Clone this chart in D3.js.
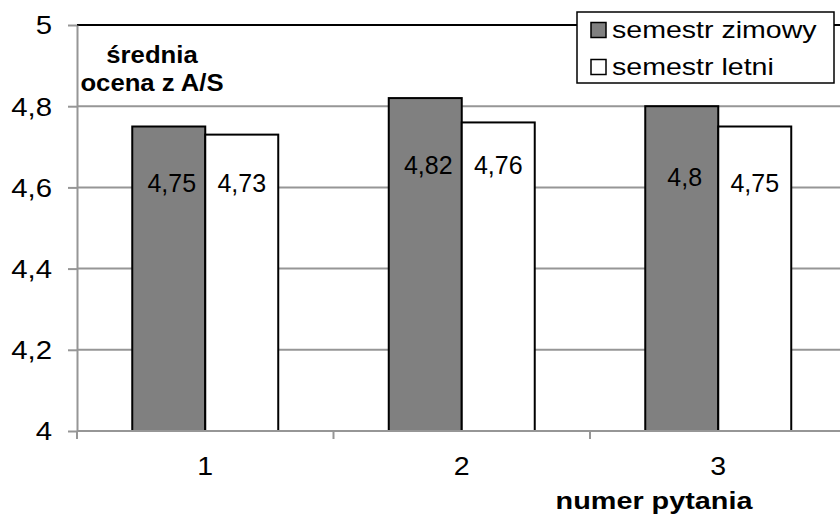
<!DOCTYPE html>
<html><head><meta charset="utf-8">
<script src="https://cdn.jsdelivr.net/npm/d3@7"></script>
<style>
body{margin:0;background:#fff;}
svg{display:block;font-family:"Liberation Sans",Arial,sans-serif;}
</style></head>
<body><svg id="c" width="840" height="517"></svg>
<script>
const categories = ["1", "2", "3"];
const seriesNames = ["semestr zimowy", "semestr letni"];
const zimowy = [4.75, 4.82, 4.8];
const letni = [4.73, 4.76, 4.75];
const labelsZimowy = ["4,75", "4,82", "4,8"];
const labelsLetni = ["4,73", "4,76", "4,75"];
// vertical anchor (in axis units) where Excel placed each data label
const labelAnchorZimowy = [4.61, 4.655, 4.625];
const labelAnchorLetni = [4.61, 4.655, 4.61];
const yTicks = [4, 4.2, 4.4, 4.6, 4.8, 5];
const yTickLabels = ["4", "4,2", "4,4", "4,6", "4,8", "5"];
const yTitle = ["średnia", "ocena z A/S"];
const xTitle = "numer pytania";

const colors = ["#808080", "#ffffff"];
const svg = d3.select("#c");
const pLeft = 77, pRight = 846.5, pTop = 25, pBottom = 431;

const x = d3.scaleBand().domain(categories).range([pLeft, pRight]);
const xs = d3.scaleBand().domain(seriesNames).range([0, x.bandwidth()]).paddingOuter(0.757);
const y = d3.scaleLinear().domain([4, 5]).range([pBottom, pTop]);

// gridlines
svg.append("g").selectAll("line").data(yTicks.filter(t => t > 4 && t < 5)).join("line")
  .attr("x1", pLeft).attr("x2", 840).attr("y1", d => y(d)).attr("y2", d => y(d))
  .attr("stroke", "#969696").attr("stroke-width", 2);
// top border
svg.append("line").attr("x1", pLeft).attr("x2", 840).attr("y1", y(5)).attr("y2", y(5))
  .attr("stroke", "#000").attr("stroke-width", 2);

// y axis
const yAxis = svg.append("g").attr("transform", `translate(${pLeft},0)`)
  .call(d3.axisLeft(y).tickValues(yTicks).tickSize(9).tickSizeOuter(0)
    .tickFormat((d, i) => yTickLabels[i]));
yAxis.select(".domain").attr("stroke", "#969696").attr("stroke-width", 2);
yAxis.selectAll(".tick line").attr("stroke", "#969696").attr("stroke-width", 2);
yAxis.selectAll(".tick text").attr("x", 0).attr("dy", null)
  .attr("dominant-baseline", "central")
  .attr("font-size", 26).attr("fill", "#000")
  .attr("text-anchor", "end")
  .attr("transform", "translate(-25,0) scale(1.13,1)");

// bars
const data = categories.map((c, i) => [
  {cat: c, s: seriesNames[0], v: zimowy[i], lab: labelsZimowy[i], la: labelAnchorZimowy[i], col: colors[0]},
  {cat: c, s: seriesNames[1], v: letni[i], lab: labelsLetni[i], la: labelAnchorLetni[i], col: colors[1]}
]).flat();

svg.append("g").selectAll("rect").data(data).join("rect")
  .attr("x", d => x(d.cat) + xs(d.s))
  .attr("width", xs.bandwidth())
  .attr("y", d => y(d.v))
  .attr("height", d => y(4) - y(d.v))
  .attr("fill", d => d.col).attr("stroke", "#000").attr("stroke-width", 2);

// x axis
svg.append("line").attr("x1", pLeft).attr("x2", 840).attr("y1", pBottom).attr("y2", pBottom)
  .attr("stroke", "#969696").attr("stroke-width", 2);
svg.append("g").selectAll("line").data(categories).join("line")
  .attr("x1", d => x(d)).attr("x2", d => x(d)).attr("y1", pBottom).attr("y2", pBottom + 8)
  .attr("stroke", "#969696").attr("stroke-width", 2);
svg.append("g").selectAll("text").data(categories).join("text")
  .attr("transform", d => `translate(${x(d) + x.bandwidth() / 2},475) scale(1.14,1)`)
  .attr("text-anchor", "middle").attr("font-size", 25).text(d => d);

// data labels
svg.append("g").selectAll("text").data(data).join("text")
  .attr("x", d => x(d.cat) + xs(d.s) + xs.bandwidth() / 2 + (d.s === seriesNames[0] ? 3 : 0))
  .attr("y", d => y(d.la))
  .attr("dominant-baseline", "central")
  .attr("text-anchor", "middle").attr("font-size", 25).text(d => d.lab);

// axis titles
svg.append("g").selectAll("text").data(yTitle).join("text")
  .attr("transform", (d, i) => `translate(152,${63 + i * 28}) scale(1.07,1)`)
  .attr("text-anchor", "middle").attr("font-size", 24).attr("font-weight", "bold").text(d => d);
svg.append("text").attr("transform", "translate(654,509) scale(1.2,1)")
  .attr("text-anchor", "middle").attr("font-size", 24).attr("font-weight", "bold").text(xTitle);

// legend
const lg = svg.append("g");
lg.append("rect").attr("x", 577).attr("y", 12).attr("width", 257).attr("height", 71)
  .attr("fill", "#fff").attr("stroke", "#000").attr("stroke-width", 1.5);
const items = lg.selectAll("g").data(seriesNames).join("g")
  .attr("transform", (d, i) => `translate(591,${30 + i * 37})`);
items.append("rect").attr("x", 0).attr("y", -7.5).attr("width", 15).attr("height", 15)
  .attr("fill", (d, i) => colors[i]).attr("stroke", "#000").attr("stroke-width", 1.5);
items.append("text").attr("transform", "translate(21,0) scale(1.19,1)")
  .attr("dominant-baseline", "central").attr("font-size", 24).text(d => d);
</script></body></html>
